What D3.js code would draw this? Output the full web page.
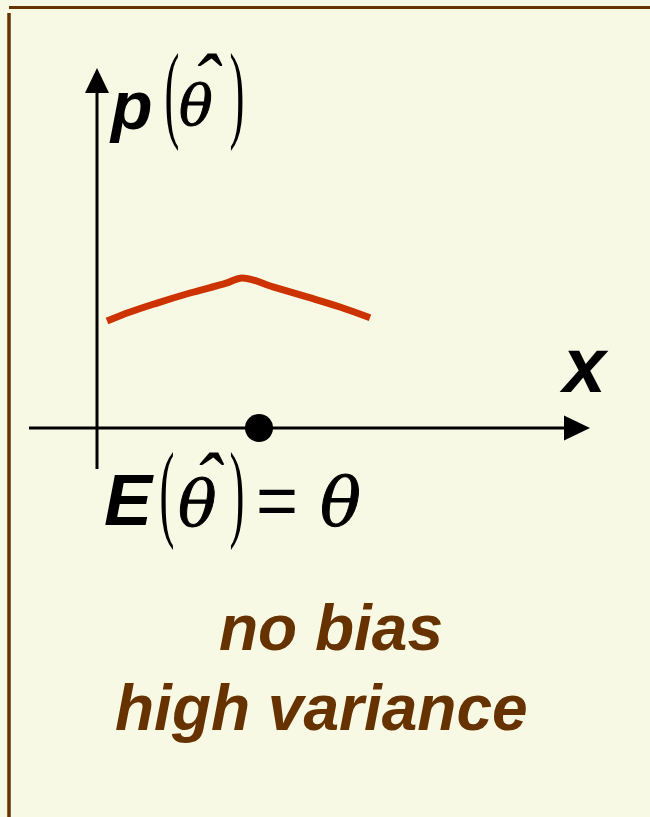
<!DOCTYPE html>
<html>
<head>
<meta charset="utf-8">
<script src="https://cdn.jsdelivr.net/npm/d3@7"></script>
<style>
  html, body { margin: 0; padding: 0; background: #f8f9e4; }
  svg { display: block; }
</style>
</head>
<body>
<svg id="chart" width="650" height="817"></svg>
<script>
// Sampling distribution of an unbiased, high-variance estimator
const thetaOffsets = [-3.04, -2.58, -2.04, -1.38, -0.64, -0.34, 0.28, 0.96, 1.62, 2.22];
const density      = [0.297, 0.322, 0.347, 0.375, 0.403, 0.417, 0.392, 0.364, 0.336, 0.306];
const trueTheta = [0];
const captionLines = ["no bias", "high variance"];

const brown = "#663300";
const svg = d3.select("#chart");

// frame
svg.append("rect").attr("width", 650).attr("height", 817).attr("fill", "#f8f9e4");
svg.append("line").attr("x1", 9).attr("x2", 650).attr("y1", 7.5).attr("y2", 7.5)
  .attr("stroke", brown).attr("stroke-width", 3);
svg.append("line").attr("x1", 9).attr("x2", 9).attr("y1", 13).attr("y2", 817)
  .attr("stroke", brown).attr("stroke-width", 3.5);

// scales: x in units relative to the true parameter, y is probability density
const x = d3.scaleLinear().domain([-4.6, 6.6]).range([29, 589]);
const y = d3.scaleLinear().domain([0, 1]).range([428, 68]);
const yAxisX = 97;

// axes
svg.append("line").attr("x1", x(-4.6)).attr("x2", x(6.6) - 24)
  .attr("y1", y(0)).attr("y2", y(0)).attr("stroke", "#000").attr("stroke-width", 3);
svg.append("path")
  .attr("d", `M${x(6.6) + 1},${y(0)} L${x(6.6) - 25},${y(0) - 12.5} L${x(6.6) - 25},${y(0) + 12.5} Z`)
  .attr("fill", "#000");
svg.append("line").attr("x1", yAxisX).attr("x2", yAxisX)
  .attr("y1", 469).attr("y2", y(1) + 24).attr("stroke", "#000").attr("stroke-width", 3);
svg.append("path")
  .attr("d", `M${yAxisX},${y(1)} L${yAxisX - 12},${y(1) + 25} L${yAxisX + 12},${y(1) + 25} Z`)
  .attr("fill", "#000");

// density curve
const pts = thetaOffsets.map((t, i) => [t, density[i]]);
svg.append("path")
  .datum(pts)
  .attr("d", d3.line().x(d => x(d[0])).y(d => y(d[1])).curve(d3.curveMonotoneX))
  .attr("fill", "none").attr("stroke", "#cc3300").attr("stroke-width", 7)
  .attr("stroke-linejoin", "round");

// true parameter marker
svg.selectAll("circle.theta").data(trueTheta).join("circle")
  .attr("class", "theta")
  .attr("cx", d => x(d)).attr("cy", y(0)).attr("r", 14).attr("fill", "#000");

// math labels
const sans = "'Liberation Sans', Arial, sans-serif";
const serif = "'Liberation Serif', 'Times New Roman', serif";
const greek = "'DejaVu Serif', serif";

function bigParen(ch, cx, base) {
  svg.append("text")
    .attr("transform", `translate(${cx},${base}) scale(0.7,1.7)`)
    .attr("text-anchor", "middle")
    .attr("font-family", serif).attr("font-size", 64)
    .attr("fill", "#000").text(ch);
}
// θ with a circumflex set above it, in one text element
function thetaHat(xPos, base, size, hatDx, hatDy, hatSize) {
  const t = svg.append("text").attr("x", xPos).attr("y", base).attr("fill", "#000");
  t.append("tspan")
    .attr("font-family", greek).attr("font-style", "italic").attr("font-size", size)
    .attr("stroke", "#000").attr("stroke-width", 1)
    .text("θ");
  t.append("tspan")
    .attr("dx", hatDx).attr("dy", hatDy)
    .attr("font-family", serif).attr("font-style", "italic").attr("font-size", hatSize)
    .text("ˆ");
}

// p(θ̂)
svg.append("text").attr("x", 111).attr("y", 129)
  .attr("font-family", sans).attr("font-weight", "bold").attr("font-style", "italic")
  .attr("font-size", 68).attr("fill", "#000").text("p");
bigParen("(", 172, 128);
thetaHat(179, 125, 56, -22, -13, 84);
bigParen(")", 237, 128);

// x
svg.append("text").attr("x", 563).attr("y", 392)
  .attr("font-family", sans).attr("font-weight", "bold").attr("font-style", "italic")
  .attr("font-size", 77).attr("fill", "#000").text("x");

// E(θ̂) = θ
svg.append("text").attr("x", 104).attr("y", 525)
  .attr("font-family", sans).attr("font-weight", "bold").attr("font-style", "italic")
  .attr("font-size", 72).attr("fill", "#000").text("E");
bigParen("(", 167, 527);
thetaHat(178, 525, 64, -24, -14, 84);
bigParen(")", 237, 527);
svg.append("text").attr("x", 256).attr("y", 525)
  .attr("font-family", sans).attr("font-size", 72).attr("fill", "#000").text("=");
svg.append("text").attr("x", 320).attr("y", 525)
  .attr("font-family", greek).attr("font-style", "italic").attr("font-size", 68)
  .attr("stroke", "#000").attr("stroke-width", 1)
  .attr("fill", "#000").text("θ");

// caption
const captionX = [219, 115];
const captionY = [650, 730];
svg.selectAll("text.caption").data(captionLines).join("text")
  .attr("class", "caption")
  .attr("x", (d, i) => captionX[i]).attr("y", (d, i) => captionY[i])
  .attr("font-family", sans).attr("font-weight", "bold").attr("font-style", "italic")
  .attr("font-size", 64).attr("fill", brown).text(d => d);
</script>
</body>
</html>
